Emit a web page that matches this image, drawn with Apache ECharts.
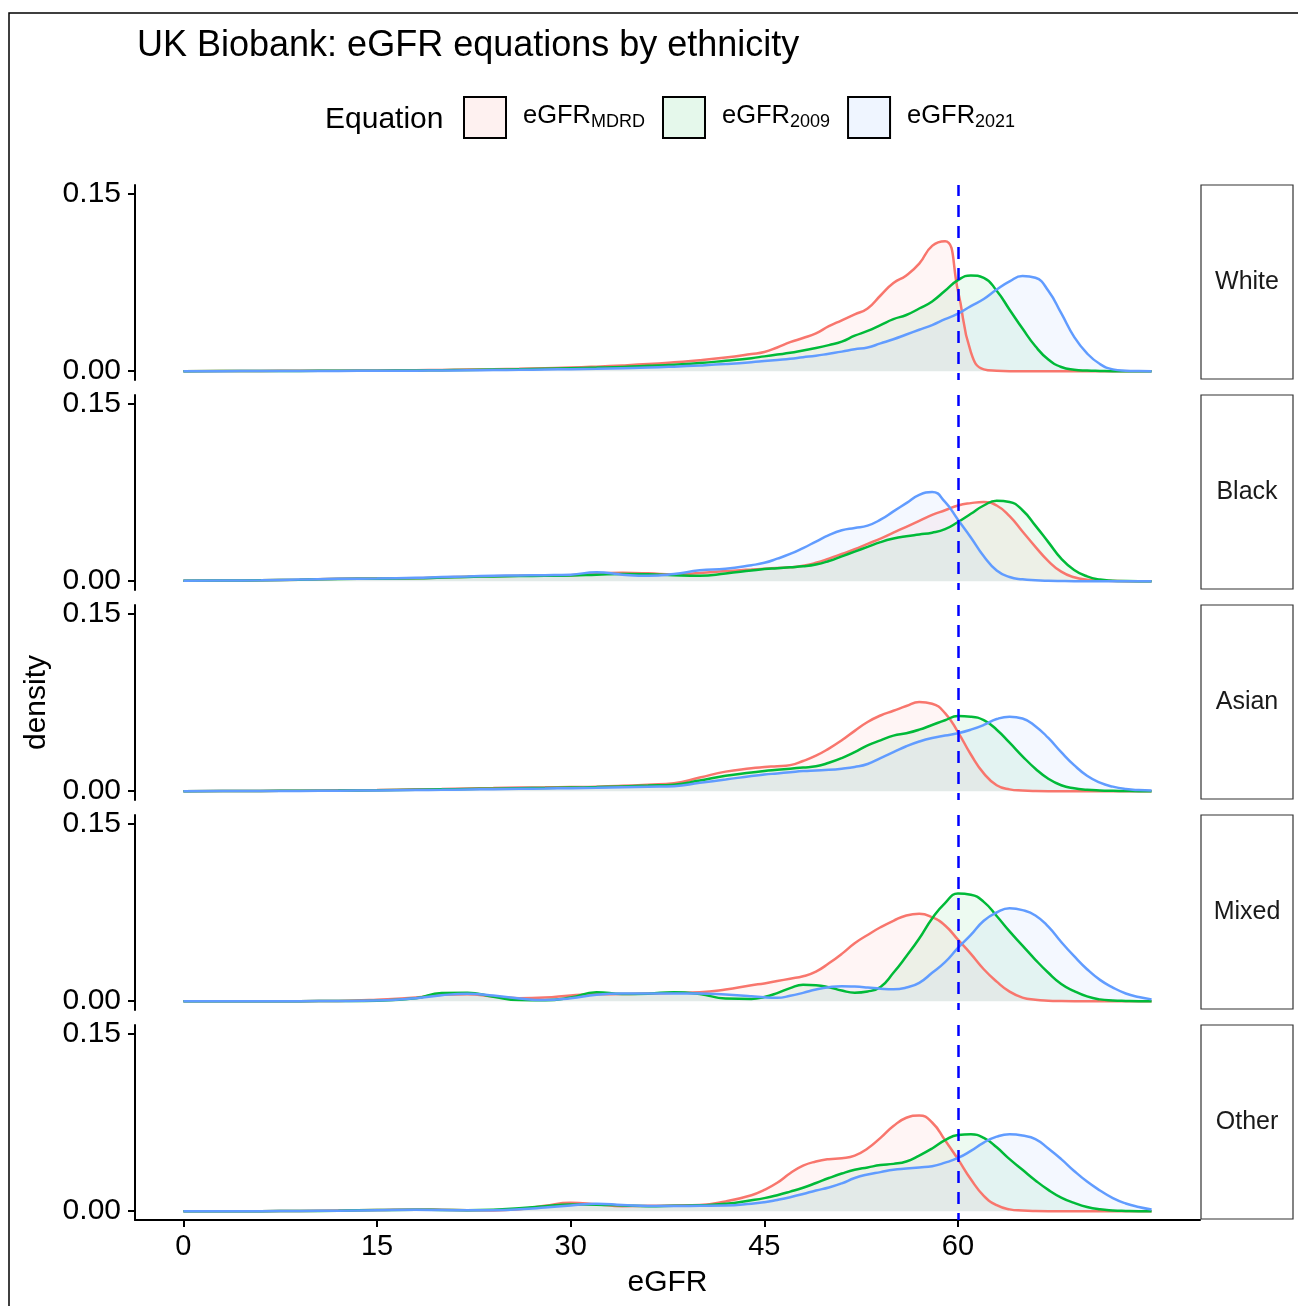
<!DOCTYPE html>
<html>
<head>
<meta charset="utf-8">
<script src="https://cdn.jsdelivr.net/npm/echarts@6/dist/echarts.min.js"></script>
<style>
  html, body { margin: 0; background: #fff; }
  #chart { width: 1298px; height: 1306px; }
</style>
</head>
<body>
<div id="chart"></div>
<script>
// eGFR grid shared by every density curve
const EGFR = [0, 3, 6, 9, 12, 15, 18,
  20, 22, 24, 26, 28, 30, 32, 34, 36, 38, 40, 42, 44,
  45, 46, 47, 48, 49, 50, 51, 52, 53, 54,
  55, 56, 57, 58, 59, 60, 61, 62, 63, 64,
  65, 66, 67, 68, 69, 70, 71, 72, 73, 74, 75]

const PANELS = ['White', 'Black', 'Asian', 'Mixed', 'Other']
const EQUATIONS = ['MDRD', '2009', '2021']
const X_TICKS = [0, 15, 30, 45, 60]
const Y_TICKS = [0, 0.15]
const CUTOFF = 60

const WHITE_MDRD = [0, 0.0001, 0.0002, 0.0003, 0.0004, 0.0006, 0.0008,
  0.001, 0.0013, 0.0016, 0.002, 0.0025, 0.003, 0.0038, 0.0048, 0.006, 0.0075, 0.0092, 0.0115, 0.0145,
  0.0162, 0.02, 0.0245, 0.028, 0.032, 0.038, 0.043, 0.048, 0.053, 0.064,
  0.0745, 0.081, 0.091, 0.106, 0.11, 0.068, 0.016, 0.0015, 0.0003, 0,
  0, 0, 0, 0, 0, 0, 0, 0, 0, 0, 0]
const WHITE_2009 = [0, 0.0001, 0.0001, 0.0002, 0.0003, 0.0004, 0.0006,
  0.0008, 0.001, 0.0013, 0.0016, 0.002, 0.0025, 0.003, 0.0036, 0.0045, 0.0055, 0.0068, 0.0088, 0.011,
  0.0125, 0.014, 0.0155, 0.0175, 0.0195, 0.022, 0.025, 0.03, 0.034, 0.039,
  0.044, 0.0475, 0.053, 0.059, 0.068, 0.077, 0.081, 0.079, 0.068, 0.052,
  0.036, 0.021, 0.0098, 0.0035, 0.0012, 0.0005, 0.0002, 0, 0, 0, 0]
const WHITE_2021 = [0, 0, 0.0001, 0.0001, 0.0002, 0.0003, 0.0004,
  0.0005, 0.0007, 0.0009, 0.0011, 0.0014, 0.0017, 0.002, 0.0025, 0.003, 0.0038, 0.0048, 0.006, 0.0075,
  0.0085, 0.0095, 0.0105, 0.0118, 0.013, 0.0148, 0.0165, 0.0185, 0.02, 0.0235,
  0.027, 0.031, 0.035, 0.039, 0.044, 0.0486, 0.055, 0.061, 0.069, 0.076,
  0.0805, 0.079, 0.068, 0.049, 0.029, 0.015, 0.006, 0.0015, 0.0004, 0.0001, 0]

const BLACK_MDRD = [0.0003, 0.0005, 0.0008, 0.0012, 0.002, 0.0022, 0.0025,
  0.003, 0.0038, 0.0042, 0.0045, 0.0048, 0.005, 0.0066, 0.007, 0.0066, 0.0057, 0.0068, 0.0085, 0.0098,
  0.0105, 0.0112, 0.0118, 0.013, 0.0155, 0.019, 0.023, 0.027, 0.0316, 0.036,
  0.041, 0.046, 0.051, 0.056, 0.06, 0.064, 0.066, 0.067, 0.064, 0.055,
  0.042, 0.029, 0.017, 0.008, 0.0033, 0.0012, 0.0005, 0.0002, 0, 0, 0]
const BLACK_2009 = [0.0003, 0.0005, 0.0008, 0.0012, 0.0018, 0.002, 0.0024,
  0.003, 0.0036, 0.004, 0.0043, 0.0045, 0.0048, 0.0054, 0.006, 0.0058, 0.005, 0.0046, 0.0065, 0.009,
  0.0102, 0.011, 0.0118, 0.0125, 0.014, 0.017, 0.021, 0.025, 0.029, 0.033,
  0.036, 0.038, 0.0395, 0.041, 0.044, 0.05, 0.057, 0.064, 0.068, 0.067,
  0.06, 0.047, 0.033, 0.019, 0.0095, 0.004, 0.0013, 0.0004, 0.0001, 0, 0]
const BLACK_2021 = [0.0003, 0.0005, 0.0008, 0.0013, 0.002, 0.0022, 0.0028,
  0.0035, 0.004, 0.0045, 0.0048, 0.005, 0.0055, 0.0075, 0.0055, 0.0045, 0.006, 0.0092, 0.0105, 0.0135,
  0.0155, 0.019, 0.023, 0.028, 0.0335, 0.039, 0.043, 0.045, 0.047, 0.052,
  0.059, 0.066, 0.073, 0.0755, 0.067, 0.052, 0.037, 0.021, 0.009, 0.0035,
  0.0015, 0.0007, 0.0003, 0.0001, 0, 0, 0, 0, 0, 0, 0]

const ASIAN_MDRD = [0, 0.0001, 0.0002, 0.0004, 0.0007, 0.001, 0.0015,
  0.0018, 0.0022, 0.0026, 0.003, 0.0032, 0.0035, 0.0038, 0.0045, 0.0055, 0.0067, 0.0115, 0.0165, 0.0193,
  0.0205, 0.021, 0.022, 0.0255, 0.03, 0.036, 0.043, 0.051, 0.0585, 0.064,
  0.068, 0.072, 0.0755, 0.074, 0.066, 0.05, 0.031, 0.015, 0.005, 0.0015,
  0.0005, 0.0001, 0, 0, 0, 0, 0, 0, 0, 0, 0]
const ASIAN_2009 = [0, 0.0001, 0.0002, 0.0003, 0.0005, 0.0008, 0.0012,
  0.0015, 0.0018, 0.0021, 0.0024, 0.0027, 0.003, 0.0034, 0.004, 0.0047, 0.0055, 0.009, 0.013, 0.0157,
  0.017, 0.018, 0.019, 0.02, 0.021, 0.024, 0.028, 0.033, 0.0387, 0.043,
  0.047, 0.049, 0.052, 0.056, 0.06, 0.0635, 0.063, 0.06, 0.052, 0.041,
  0.0295, 0.019, 0.0105, 0.005, 0.0024, 0.0012, 0.0006, 0.0003, 0.0001, 0, 0]
const ASIAN_2021 = [0, 0.0001, 0.0001, 0.0002, 0.0004, 0.0006, 0.0009,
  0.0011, 0.0014, 0.0017, 0.002, 0.0022, 0.0025, 0.0028, 0.0033, 0.0038, 0.0042, 0.007, 0.0098, 0.0128,
  0.014, 0.015, 0.016, 0.017, 0.0175, 0.018, 0.019, 0.0205, 0.023, 0.028,
  0.033, 0.038, 0.042, 0.045, 0.047, 0.049, 0.052, 0.056, 0.061, 0.063,
  0.0615, 0.055, 0.045, 0.033, 0.022, 0.013, 0.0072, 0.0038, 0.0018, 0.0009, 0.0006]

const MIXED_MDRD = [0, 0, 0, 0, 0.0002, 0.0012, 0.003,
  0.0055, 0.0058, 0.004, 0.0025, 0.003, 0.0048, 0.0058, 0.006, 0.0065, 0.007, 0.0075, 0.0098, 0.0135,
  0.015, 0.017, 0.019, 0.021, 0.025, 0.032, 0.04, 0.049, 0.056, 0.0625,
  0.068, 0.0725, 0.074, 0.071, 0.064, 0.052, 0.04, 0.027, 0.0165, 0.008,
  0.003, 0.0012, 0.0004, 0.0001, 0, 0, 0, 0, 0, 0, 0]
const MIXED_2009 = [0, 0, 0, 0, 0.0001, 0.0004, 0.0024,
  0.0068, 0.0072, 0.0038, 0.0009, 0.0007, 0.003, 0.0076, 0.006, 0.0063, 0.0076, 0.006, 0.0022, 0.0018,
  0.0035, 0.0068, 0.011, 0.0138, 0.0135, 0.0118, 0.009, 0.0072, 0.0082, 0.012,
  0.024, 0.038, 0.053, 0.07, 0.083, 0.091, 0.09, 0.084, 0.072, 0.059,
  0.047, 0.035, 0.024, 0.0145, 0.0085, 0.004, 0.0015, 0.0006, 0.0002, 0, 0]
const MIXED_2021 = [0, 0, 0, 0, 0.0001, 0.0005, 0.0025,
  0.005, 0.0062, 0.0048, 0.0022, 0.0009, 0.0025, 0.0055, 0.0065, 0.0065, 0.0065, 0.0065, 0.0056, 0.0042,
  0.0032, 0.0028, 0.0045, 0.007, 0.0098, 0.0118, 0.0127, 0.0123, 0.0115, 0.0105,
  0.01, 0.0115, 0.0155, 0.024, 0.033, 0.045, 0.056, 0.068, 0.075, 0.0785,
  0.077, 0.0725, 0.063, 0.05, 0.038, 0.027, 0.018, 0.0115, 0.0065, 0.0035, 0.0015]

const OTHER_MDRD = [0, 0, 0, 0.0001, 0.0005, 0.001, 0.0014,
  0.0012, 0.0008, 0.0006, 0.0015, 0.0045, 0.007, 0.0058, 0.0042, 0.0045, 0.0048, 0.0052, 0.0082, 0.0135,
  0.018, 0.024, 0.032, 0.0385, 0.042, 0.044, 0.0448, 0.047, 0.053, 0.062,
  0.072, 0.079, 0.081, 0.075, 0.06, 0.044, 0.027, 0.013, 0.005, 0.0015,
  0.0005, 0.0001, 0, 0, 0, 0, 0, 0, 0, 0, 0]
const OTHER_2009 = [0, 0, 0, 0.0001, 0.0004, 0.0009, 0.0012,
  0.001, 0.0008, 0.0012, 0.0025, 0.0042, 0.0056, 0.0055, 0.0048, 0.0042, 0.0045, 0.0049, 0.0062, 0.0092,
  0.011, 0.0135, 0.0165, 0.0198, 0.0238, 0.028, 0.0318, 0.035, 0.037, 0.039,
  0.04, 0.042, 0.047, 0.053, 0.06, 0.0645, 0.065, 0.062, 0.054, 0.044,
  0.035, 0.026, 0.018, 0.0115, 0.007, 0.0035, 0.0015, 0.0006, 0.0002, 0, 0]
const OTHER_2021 = [0, 0, 0, 0.0001, 0.0004, 0.0008, 0.0011,
  0.0009, 0.0007, 0.0008, 0.0015, 0.003, 0.0048, 0.0062, 0.0052, 0.0043, 0.0043, 0.0045, 0.0047, 0.0062,
  0.0075, 0.0095, 0.0118, 0.0145, 0.0175, 0.02, 0.0235, 0.028, 0.031, 0.033,
  0.035, 0.036, 0.037, 0.038, 0.041, 0.045, 0.051, 0.058, 0.063, 0.065,
  0.064, 0.061, 0.053, 0.044, 0.034, 0.025, 0.0175, 0.011, 0.0065, 0.0035, 0.0014]

const DENSITY = {
  White: [WHITE_MDRD, WHITE_2009, WHITE_2021],
  Black: [BLACK_MDRD, BLACK_2009, BLACK_2021],
  Asian: [ASIAN_MDRD, ASIAN_2009, ASIAN_2021],
  Mixed: [MIXED_MDRD, MIXED_2009, MIXED_2021],
  Other: [OTHER_MDRD, OTHER_2009, OTHER_2021],
}

const FONT = '"Liberation Sans", Arial, Helvetica, sans-serif'
const LINE_COLORS = ['#F8766D', '#00BA38', '#619CFF']
const FILL_COLORS = ['rgba(248,118,109,0.1)', 'rgba(0,186,56,0.1)', 'rgba(97,156,255,0.1)']

// layout of the faceted panels
const PLOT_LEFT = 135
const PLOT_RIGHT = 1200
const PANEL_TOP = 185
const PANEL_STEP = 210
const PANEL_H = 195

const grids = []
const xAxes = []
const yAxes = []
const series = []
const graphics = [
  { type: 'rect', shape: { x: 9, y: 13, width: 1400, height: 1400 }, style: { fill: 'none', stroke: '#000', lineWidth: 1.5 }, silent: true },
]

PANELS.forEach((panel, k) => {
  const top = PANEL_TOP + k * PANEL_STEP
  const last = k === PANELS.length - 1

  grids.push({ left: PLOT_LEFT, width: PLOT_RIGHT - PLOT_LEFT, top, height: PANEL_H, outerBoundsMode: 'none', containLabel: false })

  xAxes.push({
    type: 'value',
    gridIndex: k,
    min: -3.75,
    max: 78.75,
    splitLine: { show: false },
    axisLine: { show: last, onZero: false, lineStyle: { color: '#000', width: 2 } },
    axisTick: { show: last, customValues: X_TICKS, length: 7, lineStyle: { color: '#000', width: 2 } },
    axisLabel: { show: last, customValues: X_TICKS, margin: 12, fontSize: 29, color: '#000', fontFamily: FONT },
    name: last ? 'eGFR' : '',
    nameLocation: 'middle',
    nameGap: 48,
    nameTextStyle: { fontSize: 30, color: '#000', fontFamily: FONT },
  })

  yAxes.push({
    type: 'value',
    gridIndex: k,
    min: -0.0075,
    max: 0.1575,
    splitLine: { show: false },
    axisLine: { show: true, onZero: false, lineStyle: { color: '#000', width: 2 } },
    axisTick: { show: true, customValues: Y_TICKS, length: 7, lineStyle: { color: '#000', width: 2 } },
    axisLabel: { customValues: Y_TICKS, margin: 14, fontSize: 30, color: '#000', fontFamily: FONT, formatter: (v) => v.toFixed(2) },
    name: k === 2 ? 'density' : '',
    nameLocation: 'middle',
    nameRotate: 90,
    nameGap: 82,
    nameTextStyle: { fontSize: 30, color: '#000', fontFamily: FONT },
  })

  EQUATIONS.forEach((eq, j) => {
    const values = DENSITY[panel][j]
    const s = {
      name: eq,
      type: 'line',
      xAxisIndex: k,
      yAxisIndex: k,
      data: EGFR.map((x, i) => [x, values[i]]),
      smooth: 0.5,
      showSymbol: false,
      symbol: 'none',
      color: LINE_COLORS[j],
      lineStyle: { color: LINE_COLORS[j], width: 2.5 },
      areaStyle: { color: FILL_COLORS[j] },
      emphasis: { disabled: true },
      silent: true,
    }
    if (j === EQUATIONS.length - 1) {
      s.markLine = {
        silent: true,
        symbol: ['none', 'none'],
        label: { show: false },
        lineStyle: { color: '#0000FF', type: [12, 9], dashOffset: 5, width: 2.5 },
        data: [{ xAxis: CUTOFF }],
      }
    }
    series.push(s)
  })

  // facet strip on the right
  graphics.push({
    type: 'rect',
    shape: { x: PLOT_RIGHT + 1, y: top, width: 92, height: PANEL_H - 1 },
    style: { fill: '#fff', stroke: '#333', lineWidth: 1.2 },
    silent: true,
  })
  graphics.push({
    type: 'text',
    x: PLOT_RIGHT + 47,
    y: top + PANEL_H / 2,
    style: { text: panel, fill: '#1a1a1a', font: '25px ' + FONT, align: 'center', verticalAlign: 'middle' },
    silent: true,
  })
})

const chart = echarts.init(document.getElementById('chart'))
chart.setOption({
  animation: false,
  backgroundColor: '#fff',
  textStyle: { fontFamily: FONT },
  title: [
    { text: 'UK Biobank: eGFR equations by ethnicity', left: 137, top: 28, padding: 0,
      textStyle: { fontSize: 36, fontWeight: 'normal', color: '#000', fontFamily: FONT } },
    { text: 'Equation', left: 325, top: 105, padding: 0,
      textStyle: { fontSize: 30, fontWeight: 'normal', color: '#000', fontFamily: FONT } },
  ],
  legend: {
    left: 463,
    top: 96,
    padding: 0,
    itemWidth: 42,
    itemHeight: 41,
    itemGap: 17,
    selectedMode: false,
    data: EQUATIONS.map((eq, j) => ({
      name: eq,
      icon: 'rect',
      itemStyle: { color: FILL_COLORS[j], borderColor: '#000', borderWidth: 2 },
    })),
    formatter: (name) => '{b|eGFR}{s|' + name + '}',
    textStyle: {
      padding: [0, 0, 4, 12],
      rich: {
        b: { fontSize: 25.5, color: '#000', fontFamily: FONT },
        s: { fontSize: 18, color: '#000', fontFamily: FONT, padding: [14, 0, 0, 0] },
      },
    },
  },
  grid: grids,
  xAxis: xAxes,
  yAxis: yAxes,
  series,
  graphic: graphics,
})
</script>
</body>
</html>
